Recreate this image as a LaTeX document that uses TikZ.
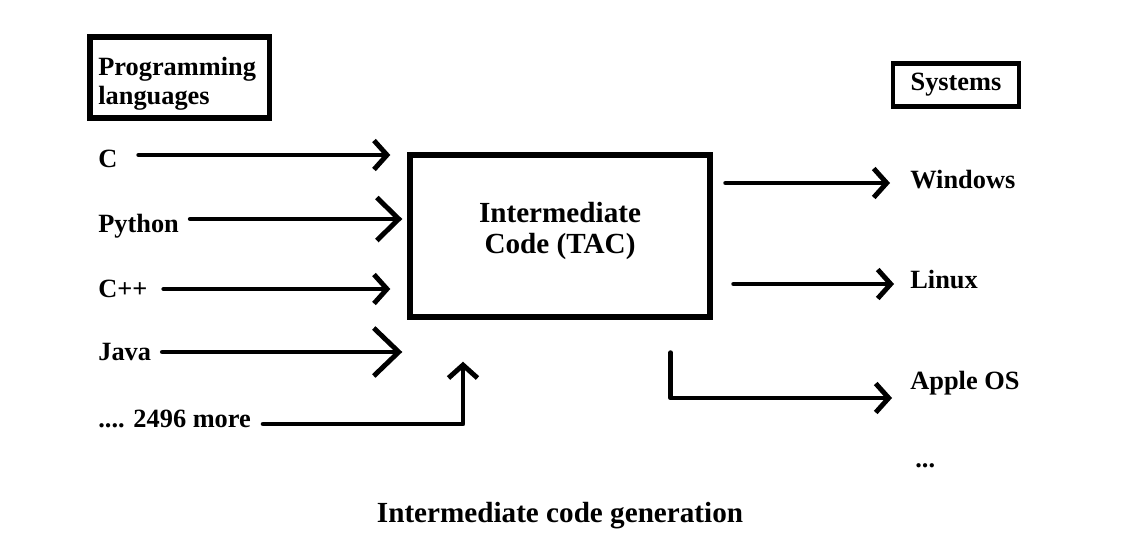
\documentclass[tikz,border=0pt]{standalone}
\usepackage{fontspec}
\setmainfont{Liberation Serif}
\usetikzlibrary{arrows.meta, positioning, calc}

\begin{document}
\begin{tikzpicture}[x=0.02cm, y=-0.02cm,
  arr/.style={-{Straight Barb[length=2.6mm, width=5.8mm]}, line width=2.8pt, line cap=round, line join=round},
  bigarr/.style={arr, -{Straight Barb[length=4.4mm, width=8.6mm]}},
  box/.style={draw, line width=3.4pt},
  lbl/.style={font=\fontsize{15}{16.5}\selectfont\bfseries, anchor=base west, inner sep=0pt}]
  \useasboundingbox (0,0) rectangle (1138,558);

  % Kopfkästen
  \node[box, minimum width=3.59cm, minimum height=1.62cm] (plang) at (179.75,77.5) {};
  \node[lbl, anchor=west, align=left, font=\fontsize{15}{16.4}\selectfont\bfseries] (plangtxt) at (98,84) {Programming\\languages};
  \node[box, line width=2.8pt, minimum width=2.52cm, minimum height=0.87cm,
        font=\fontsize{15}{16.5}\selectfont\bfseries] (sys) at (956,85) {Systems};

  % Zwischencode
  \node[box, minimum width=5.99cm, minimum height=3.23cm] (ic) at (560,236) {};
  \node[align=center, inner sep=0pt, font=\fontsize{16.6}{17.6}\selectfont\bfseries] (ictxt) at (560,231) {Intermediate\\Code (TAC)};

  % Sprachen links
  \node[lbl] (c) at (98,167) {C};
  \node[lbl] (py) at (98,232) {Python};
  \node[lbl] (cpp) at (98,297) {C++};
  \node[lbl] (java) at (98,360) {Java};
  \node[lbl] (more) at (98,427) {.... 2496 more};

  \draw[arr] ($(c.base east)+(21,-12)$) -- ($(c.base -| ic.west)+(-17,-12)$);
  \draw[bigarr] ($(py.base east)+(11,-13)$) -- ($(py.base -| ic.west)+(-5,-13)$);
  \draw[arr] ($(cpp.base east)+(16,-8)$) -- ($(cpp.base -| ic.west)+(-17,-8)$);
  \draw[bigarr, -{Straight Barb[length=5mm, width=9.6mm]}] ($(java.base east)+(11,-8)$) -- ($(java.base -| ic.west)+(-5,-8)$);
  \coordinate (knick) at ($(more.base -| ic.south)+(-97,-3)$);
  \draw[arr] ($(more.base east)+(12,-3)$) -- (knick) -- ($(ic.south)+(-97,42)$);

  % Systeme rechts
  \node[lbl] (win) at (910,188) {Windows};
  \node[lbl] (lin) at (910,288) {Linux};
  \node[lbl] (apple) at (910,389) {Apple OS};
  \node[lbl] (dots) at (915,467) {...};

  \draw[arr] ($(win.base -| ic.east)+(13,-5)$) -- ($(win.base west)+(-20,-5)$);
  \draw[arr] ($(lin.base -| ic.east)+(21,-4)$) -- ($(lin.base west)+(-16,-4)$);
  \coordinate (abzweig) at ($(ic.south east)+(-42,33)$);
  \draw[arr] (abzweig) -- (abzweig |- {$(apple.base)+(0,9)$}) -- ($(apple.base west)+(-18,9)$);

  % Unterschrift
  \node[font=\fontsize{16.6}{18}\selectfont\bfseries, anchor=base] (cap) at (560,522) {Intermediate code generation};
\end{tikzpicture}
\end{document}
